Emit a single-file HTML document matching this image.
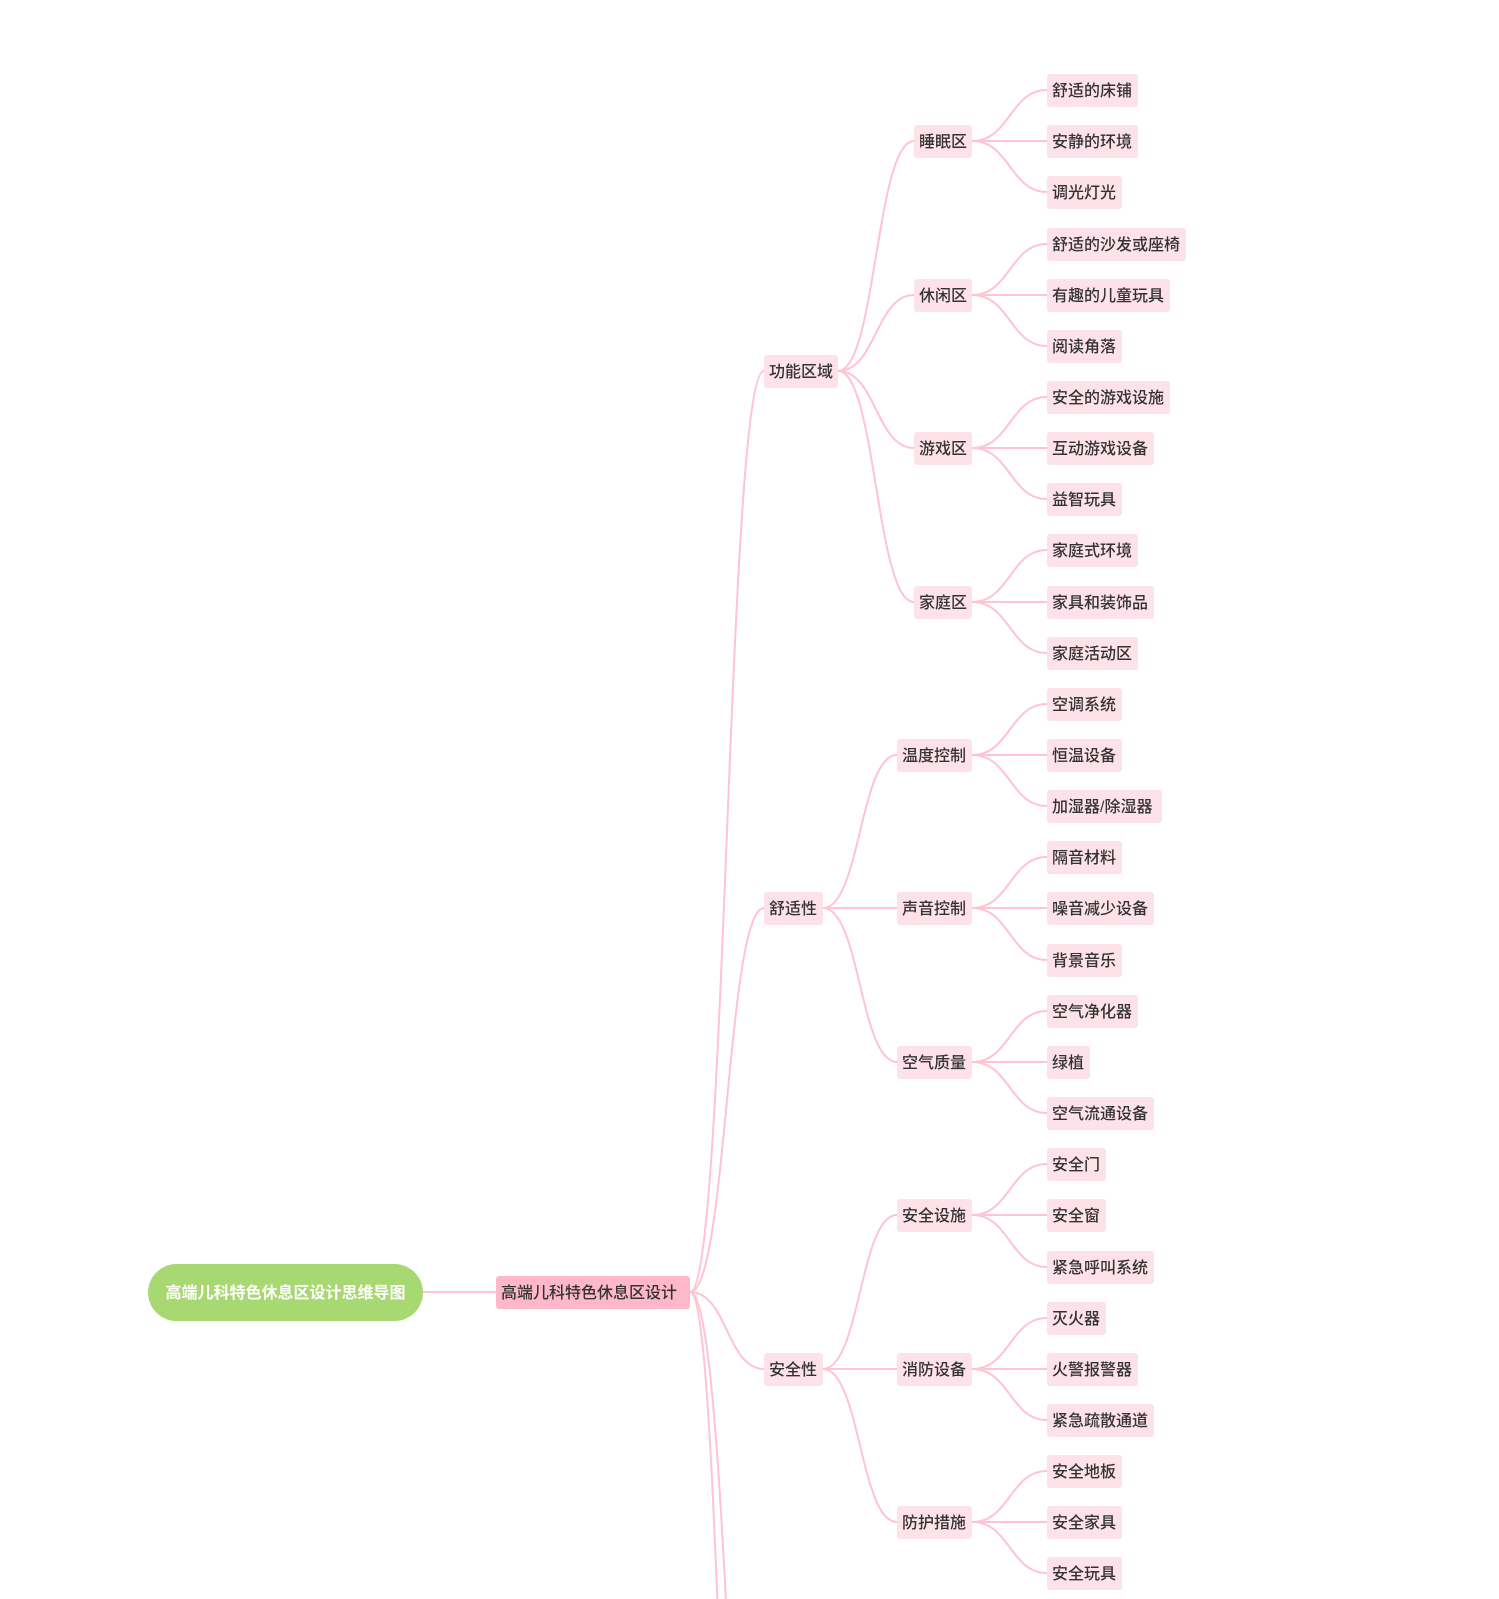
<!DOCTYPE html>
<html><head><meta charset="utf-8"><style>
html,body{margin:0;padding:0;background:#fff;width:1499px;height:1599px;overflow:hidden;}
svg{display:block;overflow:hidden;}
text{font-family:"Liberation Sans","Noto Sans CJK SC",sans-serif;font-size:16px;font-weight:500;fill:#333;}
.l{fill:none;stroke:#ffc3d2;stroke-width:2;}
.b{fill:#fde2e9;}
</style></head><body>
<svg width="1499" height="1599" viewBox="0 0 1499 1599" xmlns="http://www.w3.org/2000/svg">
<path class="l" d="M423 1292 L496 1292"/>
<path class="l" d="M690 1292 C727 1292 727 371 764 371"/>
<path class="l" d="M690 1292 C727 1292 727 908 764 908"/>
<path class="l" d="M690 1292 C727 1292 727 1369 764 1369"/>
<path class="l" d="M690 1292 C722 1292 722 2150 754 2150"/>
<path class="l" d="M690 1292 C732 1292 732 2150 774 2150"/>
<path class="l" d="M838 371 C876 371 876 141 914 141"/>
<path class="l" d="M838 371 C876 371 876 295 914 295"/>
<path class="l" d="M838 371 C876 371 876 448 914 448"/>
<path class="l" d="M838 371 C876 371 876 602 914 602"/>
<path class="l" d="M823 908 C860 908 860 755 897 755"/>
<path class="l" d="M823 908 C860 908 860 908 897 908"/>
<path class="l" d="M823 908 C860 908 860 1062 897 1062"/>
<path class="l" d="M823 1369 C860 1369 860 1215 897 1215"/>
<path class="l" d="M823 1369 C860 1369 860 1369 897 1369"/>
<path class="l" d="M823 1369 C860 1369 860 1522 897 1522"/>
<g>
<path class="l" d="M972 141 C1010 141 1010 90 1047 90"/><path class="l" d="M972 141 L1047 141"/><path class="l" d="M972 141 C1010 141 1010 192 1047 192"/>
<path class="l" d="M972 295 C1010 295 1010 244 1047 244"/><path class="l" d="M972 295 L1047 295"/><path class="l" d="M972 295 C1010 295 1010 346 1047 346"/>
<path class="l" d="M972 448 C1010 448 1010 397 1047 397"/><path class="l" d="M972 448 L1047 448"/><path class="l" d="M972 448 C1010 448 1010 499 1047 499"/>
<path class="l" d="M972 602 C1010 602 1010 550 1047 550"/><path class="l" d="M972 602 L1047 602"/><path class="l" d="M972 602 C1010 602 1010 653 1047 653"/>
<path class="l" d="M972 755 C1010 755 1010 704 1047 704"/><path class="l" d="M972 755 L1047 755"/><path class="l" d="M972 755 C1010 755 1010 806 1047 806"/>
<path class="l" d="M972 908 C1010 908 1010 857 1047 857"/><path class="l" d="M972 908 L1047 908"/><path class="l" d="M972 908 C1010 908 1010 960 1047 960"/>
<path class="l" d="M972 1062 C1010 1062 1010 1011 1047 1011"/><path class="l" d="M972 1062 L1047 1062"/><path class="l" d="M972 1062 C1010 1062 1010 1113 1047 1113"/>
<path class="l" d="M972 1215 C1010 1215 1010 1164 1047 1164"/><path class="l" d="M972 1215 L1047 1215"/><path class="l" d="M972 1215 C1010 1215 1010 1267 1047 1267"/>
<path class="l" d="M972 1369 C1010 1369 1010 1318 1047 1318"/><path class="l" d="M972 1369 L1047 1369"/><path class="l" d="M972 1369 C1010 1369 1010 1420 1047 1420"/>
<path class="l" d="M972 1522 C1010 1522 1010 1471 1047 1471"/><path class="l" d="M972 1522 L1047 1522"/><path class="l" d="M972 1522 C1010 1522 1010 1573 1047 1573"/>
</g>
<rect x="148" y="1264" width="275" height="57" rx="28.5" fill="#a8d872"/>
<text x="285.5" y="1298" text-anchor="middle" style="fill:#fff;font-weight:600">高端儿科特色休息区设计思维导图</text>
<rect x="496" y="1276" width="194" height="33" rx="3" fill="#ffb8ca"/>
<text x="501" y="1298">高端儿科特色休息区设计</text>
<rect class="b" x="764" y="355" width="74" height="33" rx="3"/><text x="769" y="377">功能区域</text>
<rect class="b" x="764" y="892" width="59" height="33" rx="3"/><text x="769" y="914">舒适性</text>
<rect class="b" x="764" y="1353" width="59" height="33" rx="3"/><text x="769" y="1375">安全性</text>
<rect class="b" x="914" y="125" width="58" height="33" rx="3"/><text x="919" y="147">睡眠区</text>
<rect class="b" x="914" y="279" width="58" height="33" rx="3"/><text x="919" y="301">休闲区</text>
<rect class="b" x="914" y="432" width="58" height="33" rx="3"/><text x="919" y="454">游戏区</text>
<rect class="b" x="914" y="586" width="58" height="33" rx="3"/><text x="919" y="608">家庭区</text>
<rect class="b" x="897" y="739" width="75" height="33" rx="3"/><text x="902" y="761">温度控制</text>
<rect class="b" x="897" y="892" width="75" height="33" rx="3"/><text x="902" y="914">声音控制</text>
<rect class="b" x="897" y="1046" width="75" height="33" rx="3"/><text x="902" y="1068">空气质量</text>
<rect class="b" x="897" y="1199" width="75" height="33" rx="3"/><text x="902" y="1221">安全设施</text>
<rect class="b" x="897" y="1353" width="75" height="33" rx="3"/><text x="902" y="1375">消防设备</text>
<rect class="b" x="897" y="1506" width="75" height="33" rx="3"/><text x="902" y="1528">防护措施</text>
<rect class="b" x="1047" y="74" width="91" height="33" rx="3"/><text x="1052" y="96">舒适的床铺</text>
<rect class="b" x="1047" y="125" width="91" height="33" rx="3"/><text x="1052" y="147">安静的环境</text>
<rect class="b" x="1047" y="176" width="75" height="33" rx="3"/><text x="1052" y="198">调光灯光</text>
<rect class="b" x="1047" y="228" width="139" height="33" rx="3"/><text x="1052" y="250">舒适的沙发或座椅</text>
<rect class="b" x="1047" y="279" width="123" height="33" rx="3"/><text x="1052" y="301">有趣的儿童玩具</text>
<rect class="b" x="1047" y="330" width="75" height="33" rx="3"/><text x="1052" y="352">阅读角落</text>
<rect class="b" x="1047" y="381" width="123" height="33" rx="3"/><text x="1052" y="403">安全的游戏设施</text>
<rect class="b" x="1047" y="432" width="107" height="33" rx="3"/><text x="1052" y="454">互动游戏设备</text>
<rect class="b" x="1047" y="483" width="75" height="33" rx="3"/><text x="1052" y="505">益智玩具</text>
<rect class="b" x="1047" y="534" width="91" height="33" rx="3"/><text x="1052" y="556">家庭式环境</text>
<rect class="b" x="1047" y="586" width="107" height="33" rx="3"/><text x="1052" y="608">家具和装饰品</text>
<rect class="b" x="1047" y="637" width="91" height="33" rx="3"/><text x="1052" y="659">家庭活动区</text>
<rect class="b" x="1047" y="688" width="75" height="33" rx="3"/><text x="1052" y="710">空调系统</text>
<rect class="b" x="1047" y="739" width="75" height="33" rx="3"/><text x="1052" y="761">恒温设备</text>
<rect class="b" x="1047" y="790" width="115" height="33" rx="3"/><text x="1052" y="812">加湿器/除湿器</text>
<rect class="b" x="1047" y="841" width="75" height="33" rx="3"/><text x="1052" y="863">隔音材料</text>
<rect class="b" x="1047" y="892" width="107" height="33" rx="3"/><text x="1052" y="914">噪音减少设备</text>
<rect class="b" x="1047" y="944" width="75" height="33" rx="3"/><text x="1052" y="966">背景音乐</text>
<rect class="b" x="1047" y="995" width="91" height="33" rx="3"/><text x="1052" y="1017">空气净化器</text>
<rect class="b" x="1047" y="1046" width="43" height="33" rx="3"/><text x="1052" y="1068">绿植</text>
<rect class="b" x="1047" y="1097" width="107" height="33" rx="3"/><text x="1052" y="1119">空气流通设备</text>
<rect class="b" x="1047" y="1148" width="59" height="33" rx="3"/><text x="1052" y="1170">安全门</text>
<rect class="b" x="1047" y="1199" width="59" height="33" rx="3"/><text x="1052" y="1221">安全窗</text>
<rect class="b" x="1047" y="1251" width="107" height="33" rx="3"/><text x="1052" y="1273">紧急呼叫系统</text>
<rect class="b" x="1047" y="1302" width="59" height="33" rx="3"/><text x="1052" y="1324">灭火器</text>
<rect class="b" x="1047" y="1353" width="91" height="33" rx="3"/><text x="1052" y="1375">火警报警器</text>
<rect class="b" x="1047" y="1404" width="107" height="33" rx="3"/><text x="1052" y="1426">紧急疏散通道</text>
<rect class="b" x="1047" y="1455" width="75" height="33" rx="3"/><text x="1052" y="1477">安全地板</text>
<rect class="b" x="1047" y="1506" width="75" height="33" rx="3"/><text x="1052" y="1528">安全家具</text>
<rect class="b" x="1047" y="1557" width="75" height="33" rx="3"/><text x="1052" y="1579">安全玩具</text>
</svg>
</body></html>
